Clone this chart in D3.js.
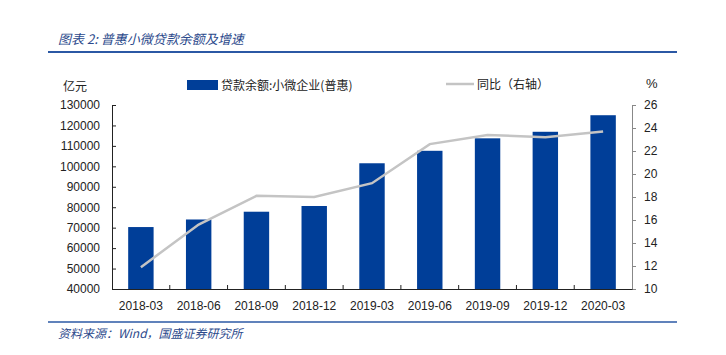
<!DOCTYPE html>
<html><head><meta charset="utf-8">
<script src="https://cdn.jsdelivr.net/npm/d3@7"></script>
<style>body{margin:0;background:#fff}svg{display:block}</style>
</head><body><svg id="c" width="726" height="355"></svg>
<script>
const categories = ["2018-03","2018-06","2018-09","2018-12","2019-03","2019-06","2019-09","2019-12","2020-03"];
const balance = [70300, 74000, 77800, 80600, 101500, 107600, 113700, 116900, 125000];
const yoy = [11.9, 15.6, 18.1, 18.0, 19.2, 22.6, 23.4, 23.2, 23.7];
const leftTicks = [40000,50000,60000,70000,80000,90000,100000,110000,120000,130000];
const rightTicks = [10,12,14,16,18,20,22,24,26];

const svg = d3.select("#c");
const L = 112, R = 632, T = 105, B = 289;
const font = "'Liberation Sans', Arial, sans-serif";
const cjk = "'Noto Sans CJK SC', sans-serif";
const blue = "#003e98", gray = "#c4c4c4", titleBlue = "#2c4a8c";

// header
svg.append("text").attr("x", 58).attr("y", 44).attr("font-family", cjk).attr("font-style","italic")
  .attr("font-size", 13).attr("fill", titleBlue).text("图表 2:  普惠小微贷款余额及增速");
svg.append("line").attr("x1", 48).attr("x2", 677).attr("y1", 52).attr("y2", 52).attr("stroke", "#2b58a4").attr("stroke-width", 2);
svg.append("line").attr("x1", 48).attr("x2", 677).attr("y1", 322).attr("y2", 322).attr("stroke", "#2b58a4").attr("stroke-width", 1.5);
svg.append("text").attr("x", 58).attr("y", 338).attr("font-family", cjk).attr("font-style","italic")
  .attr("font-size", 12).attr("fill", titleBlue).text("资料来源：Wind，国盛证券研究所");

const x = d3.scaleBand().domain(categories).range([L, R]).paddingInner(0.56).paddingOuter(0.28);
const xb = d3.scaleBand().domain(categories).range([L, R]);
const yL = d3.scaleLinear().domain([40000, 130000]).range([B, T]);
const yR = d3.scaleLinear().domain([10, 26]).range([B, T]);

// bars
svg.append("g").selectAll("rect").data(balance).join("rect")
  .attr("x", (d,i) => x(categories[i])).attr("width", x.bandwidth())
  .attr("y", d => yL(d)).attr("height", d => B - yL(d)).attr("fill", blue);

// line
svg.append("path").datum(yoy)
  .attr("d", d3.line().x((d,i) => xb(categories[i]) + xb.bandwidth()/2).y(d => yR(d)))
  .attr("fill", "none").attr("stroke", gray).attr("stroke-width", 2.5);

// left axis
const gl = svg.append("g").attr("transform", `translate(${L},0)`)
  .call(d3.axisLeft(yL).tickValues(leftTicks).tickSizeInner(-4).tickSizeOuter(0).tickPadding(12).tickFormat(d3.format("d")));
gl.select(".domain").attr("stroke", "#222");
gl.selectAll(".tick line").attr("stroke", "#222");
gl.selectAll("text").attr("font-family", font).attr("font-size", 12).attr("fill", "#222");

// right axis
const gr = svg.append("g").attr("transform", `translate(${R},0)`)
  .call(d3.axisRight(yR).tickValues(rightTicks).tickSize(4).tickSizeOuter(0).tickPadding(8));
gr.select(".domain").attr("stroke", "#888");
gr.selectAll(".tick line").attr("stroke", "#888");
gr.selectAll("text").attr("font-family", font).attr("font-size", 12).attr("fill", "#222");

// x axis
const gx = svg.append("g").attr("transform", `translate(0,${B})`)
  .call(d3.axisBottom(xb).tickSize(0).tickPadding(12));
gx.select(".domain").attr("stroke", "#222");
gx.selectAll("text").attr("font-family", font).attr("font-size", 12).attr("fill", "#222");
svg.append("g").selectAll("line").data(categories.slice(1)).join("line")
  .attr("x1", d => xb(d)).attr("x2", d => xb(d)).attr("y1", B).attr("y2", B - 4).attr("stroke", "#222");

// legend / units
svg.append("text").attr("x", 63).attr("y", 91).attr("font-family", cjk).attr("font-size", 12).attr("fill", "#222").text("亿元");
svg.append("text").attr("x", 646).attr("y", 88).attr("font-family", font).attr("font-size", 13).attr("fill", "#222").text("%");
svg.append("rect").attr("x", 187).attr("y", 80).attr("width", 31).attr("height", 10).attr("fill", blue);
svg.append("text").attr("x", 221).attr("y", 90).attr("font-family", cjk).attr("font-size", 12).attr("fill", "#222").text("贷款余额:小微企业(普惠)");
svg.append("line").attr("x1", 446).attr("x2", 474).attr("y1", 84).attr("y2", 84).attr("stroke", gray).attr("stroke-width", 2.5);
svg.append("text").attr("x", 477).attr("y", 89).attr("font-family", cjk).attr("font-size", 12).attr("fill", "#222").text("同比（右轴）");
</script></body></html>
